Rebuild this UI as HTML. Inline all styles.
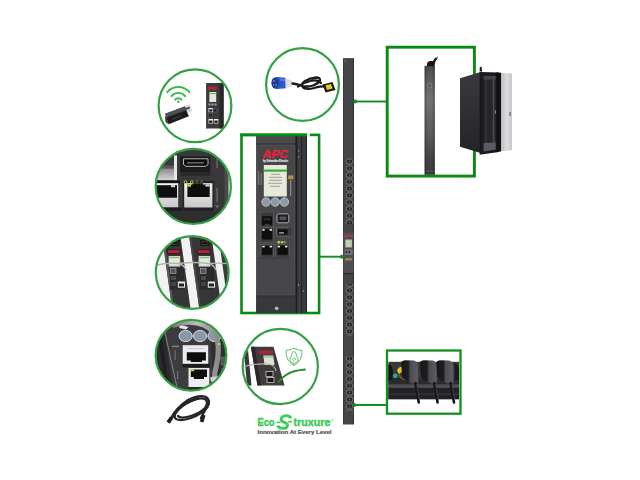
<!DOCTYPE html>
<html><head><meta charset="utf-8"><title>PDU</title>
<style>
html,body{margin:0;padding:0;background:#fff;width:640px;height:480px;overflow:hidden}
svg{display:block;position:absolute;left:0;top:0}
</style></head><body>
<svg width="640" height="480" viewBox="0 0 640 480">
<defs>
  <clipPath id="c1"><circle cx="195" cy="105.8" r="36"/></clipPath>
  <clipPath id="c2"><circle cx="193.3" cy="186.4" r="37.6"/></clipPath>
  <clipPath id="c3"><circle cx="192.2" cy="272.5" r="36.2"/></clipPath>
  <clipPath id="c4"><circle cx="191" cy="355.3" r="35.2"/></clipPath>
  <clipPath id="c5"><circle cx="302.5" cy="84.5" r="36.2"/></clipPath>
  <clipPath id="c6"><circle cx="280.3" cy="366.5" r="37.4"/></clipPath>
  <linearGradient id="pdu" x1="0" x2="1" y1="0" y2="0">
    <stop offset="0" stop-color="#333"/><stop offset="0.15" stop-color="#464646"/>
    <stop offset="0.85" stop-color="#444"/><stop offset="1" stop-color="#2e2e2e"/>
  </linearGradient>
  <linearGradient id="thin" x1="0" x2="1" y1="0" y2="0">
    <stop offset="0" stop-color="#3a3a3a"/><stop offset="0.5" stop-color="#6a6a6a"/>
    <stop offset="1" stop-color="#3a3a3a"/>
  </linearGradient>
  <pattern id="outl" x="343" y="158" width="11" height="6.8" patternUnits="userSpaceOnUse">
    <path d="M4.6 1.0 L8.6 1.0 L10.2 3.4 L8.6 5.8 L4.6 5.8 L3.0 3.4 Z" fill="#262626" stroke="#828282" stroke-width="0.85"/>
    <circle cx="6.6" cy="3.4" r="0.8" fill="#707070"/>
  </pattern>
</defs>

<!-- ===== main PDU ===== -->
<rect x="343" y="58" width="11" height="366.5" fill="url(#pdu)"/>
<rect x="343" y="58" width="11" height="1.2" fill="#555"/>
<circle cx="345" cy="61" r="0.6" fill="#aaa"/>
<rect x="343" y="158" width="11" height="66" fill="url(#outl)"/>
<rect x="343" y="284" width="11" height="52" fill="url(#outl)"/>
<rect x="343" y="356" width="11" height="56" fill="url(#outl)"/>
<rect x="343.5" y="232.5" width="10" height="40.5" fill="#505052"/>
<rect x="344.3" y="235" width="9" height="1.8" fill="#b03a50"/>
<rect x="345.2" y="239.5" width="6.8" height="8" fill="#a8b898"/>
<rect x="346" y="240.5" width="5.2" height="6" fill="#c0d0b0"/>
<rect x="344.8" y="249.5" width="7.8" height="5.5" fill="#70747e"/>
<circle cx="346.5" cy="252" r="1" fill="#222"/><circle cx="349.5" cy="252" r="1" fill="#222"/>
<rect x="345" y="258" width="7" height="2.6" fill="#8a8a40"/>
<rect x="343.5" y="273" width="10" height="1" fill="#2a2a2a"/>

<!-- ===== connector lines ===== -->
<g stroke="#188c24" stroke-width="1.9" fill="#188c24">
  <line x1="355" y1="101.5" x2="387" y2="101.5"/>
  <circle cx="355.2" cy="101.5" r="2" stroke="none"/>
  <line x1="319.4" y1="256.7" x2="342" y2="256.7"/>
  <circle cx="341.8" cy="256.7" r="2" stroke="none"/>
  <line x1="354" y1="405" x2="387" y2="405"/>
  <circle cx="354.4" cy="405" r="2" stroke="none"/>
</g>

<!-- ===== rect A: thin pdu + rack ===== -->
<rect x="387.2" y="47.2" width="87.2" height="128.9" fill="none" stroke="#0a8a14" stroke-width="2.9"/>
<defs>
  <linearGradient id="thinv" x1="0" y1="0" x2="0" y2="1">
    <stop offset="0" stop-color="#4a4a4c"/><stop offset="0.12" stop-color="#5c5c5e"/><stop offset="0.3" stop-color="#727274"/>
    <stop offset="0.65" stop-color="#5a5a5c"/><stop offset="0.85" stop-color="#444446"/><stop offset="1" stop-color="#3a3a3c"/>
  </linearGradient>
  <linearGradient id="thinh" x1="0" x2="1" y1="0" y2="0">
    <stop offset="0" stop-color="#000" stop-opacity="0.35"/><stop offset="0.25" stop-color="#000" stop-opacity="0"/>
    <stop offset="0.75" stop-color="#000" stop-opacity="0"/><stop offset="1" stop-color="#000" stop-opacity="0.35"/>
  </linearGradient>
</defs>
<rect x="424.6" y="65.8" width="10.2" height="109" fill="url(#thinv)"/>
<rect x="424.6" y="65.8" width="10.2" height="109" fill="url(#thinh)"/>
<circle cx="429.5" cy="85.6" r="2.3" fill="#5a5a5c" stroke="#8a8a8c" stroke-width="0.7"/>
<path d="M427 66.2 L427 63.5 Q427.5 61 430 61 L433 61 Q434 58.5 436.5 57 L437.5 58.8 Q435.5 60.5 435 63 L434.5 66.2 Z" fill="#161618"/>
<rect x="436" y="56.6" width="1.8" height="1.6" fill="#888" transform="rotate(-30 437 57.4)"/>
<rect x="426" y="170" width="8" height="2" fill="#555" opacity="0.6"/>
<!-- rack cabinet -->
<defs>
  <linearGradient id="side" x1="0" y1="0" x2="0" y2="1">
    <stop offset="0" stop-color="#3a3a3e"/><stop offset="1" stop-color="#242426"/>
  </linearGradient>
  <linearGradient id="door" x1="0" y1="0" x2="1" y2="0">
    <stop offset="0" stop-color="#bcbcc0"/><stop offset="0.5" stop-color="#dcdce0"/><stop offset="1" stop-color="#c8c8cc"/>
  </linearGradient>
</defs>
<polygon points="460,78.3 480.6,72 480.6,153 460,146.8" fill="url(#side)"/>
<polygon points="479.6,72 499,72.5 499,152 479.6,154.8" fill="#1a1a1c"/>
<polygon points="483.6,75.5 496,75.2 496,149.5 483.6,151.5" fill="#26262a"/>
<rect x="483.6" y="76" width="12.4" height="3.5" fill="#44444a"/>
<rect x="492.8" y="79" width="1.6" height="68" fill="#4a4a50"/>
<rect x="485.5" y="79" width="1.2" height="68" fill="#36363c"/>
<polygon points="483.6,143 496,142.6 496,149.5 483.6,151.5" fill="#5a5a60"/>
<rect x="495" y="110" width="2" height="4" fill="#9a9aa0"/>
<polygon points="495.8,72.5 501,72.8 501,151.5 495.8,152" fill="#121214"/>
<polygon points="501,73 512,73.4 512,150.2 501,151.2" fill="url(#door)"/>
<rect x="509.5" y="112" width="1" height="4" fill="#555"/>
<path d="M479.6 71.5 L479.8 66.8 L481.6 67 L482.2 71.5 Z" fill="#1e1e20"/>
<circle cx="470" cy="93" r="0.6" fill="#555"/><circle cx="470" cy="128" r="0.6" fill="#555"/>

<!-- ===== rect B: power strip with plugs ===== -->
<rect x="387.0" y="350.5" width="73.5" height="63.2" fill="none" stroke="#14901e" stroke-width="2.3"/>
<defs>
  <linearGradient id="plug" x1="0" y1="0" x2="1" y2="0">
    <stop offset="0" stop-color="#161618"/><stop offset="0.4" stop-color="#1e1e22"/><stop offset="0.5" stop-color="#4a4a50"/><stop offset="0.9" stop-color="#5c5c62"/><stop offset="1" stop-color="#303034"/>
  </linearGradient>
</defs>
<rect x="388.4" y="361.8" width="70.6" height="37.4" fill="#3a3a3e"/>
<rect x="388.4" y="378" width="70.6" height="6.5" fill="#2a2a2e"/>
<rect x="388.4" y="384.5" width="70.6" height="3.4" fill="#4e4e54"/>
<rect x="388.4" y="387.9" width="70.6" height="11.3" fill="#222226"/>
<rect x="388.4" y="393.5" width="70.6" height="1.2" fill="#3a3a3e"/>
<path d="M388.4 364.5 L391 365 Q393 368 393 372.5 Q393 378 391 380.5 L388.4 380.5 Z" fill="#141416"/>
<circle cx="395.2" cy="375.8" r="2.4" fill="#26a890"/>
<path d="M397 370.5 Q398.5 367 401.5 366.8 L403 369.5 Q401.8 373.2 399 374 Z" fill="#e8c820"/>
<path d="M398.5 374 Q400 379 405 380" fill="none" stroke="#a08a28" stroke-width="0.7"/>
<g fill="url(#plug)">
  <path d="M401.2 363 Q401.5 360.2 405.5 360.2 L414 360.5 Q417.5 361.5 418.4 367 L419 379 L418.6 383.5 L412.5 383.5 Q404.5 381 402 376 Z"/>
  <path d="M420 363 Q420.3 360.2 424.3 360.2 L432.8 360.5 Q436.3 361.5 437.2 367 L437.8 379 L437.4 383.5 L431.3 383.5 Q423.3 381 420.8 376 Z"/>
  <path d="M436.4 363 Q436.7 360.2 440.7 360.2 L449.2 360.5 Q452.7 361.5 453.6 367 L454.2 379 L453.8 383.5 L447.7 383.5 Q439.7 381 437.2 376 Z"/>
</g>
<g stroke="#141416" stroke-width="2.6" fill="none" stroke-linecap="round">
  <path d="M415.5 383 L417 392 L418.8 402.5"/>
  <path d="M434.3 383 L435.8 392 L437.6 402.5"/>
  <path d="M450.7 383 L452.2 392 L454 402.5"/>
</g>
<g stroke="#6a6a70" stroke-width="0.5" fill="none">
  <path d="M416.6 384 L418 392 L419.6 400"/>
  <path d="M435.4 384 L436.8 392 L438.4 400"/>
  <path d="M451.8 384 L453.2 392 L454.8 400"/>
</g>
<path d="M454.5 363 Q458.5 364 459 370 L459 380 L455 380 Z" fill="#1a1a1c"/>

<!-- ===== rect C: controller ===== -->
<rect x="241.5" y="134.9" width="77.6" height="178.1" fill="none" stroke="#0a8a14" stroke-width="2.6"/>
<rect x="256.2" y="136" width="50.7" height="177" fill="#303032"/>
<rect x="256.2" y="136" width="39.4" height="8" fill="#4a4a4c"/>
<rect x="256.2" y="143.5" width="39.4" height="1" fill="#2a2a2c"/>
<rect x="256.2" y="144.5" width="39.4" height="151.5" fill="#474749"/>
<rect x="257" y="145.2" width="37.8" height="150" rx="1.5" fill="none" stroke="#5a5a5c" stroke-width="0.6"/>
<rect x="295.6" y="136" width="11.3" height="177" fill="#3c3c3e"/>
<rect x="295.6" y="136" width="1.7" height="177" fill="#1e1e20"/>
<rect x="301.2" y="136" width="1" height="177" fill="#222224"/>
<rect x="305.9" y="136" width="1" height="177" fill="#242426"/>
<rect x="298" y="284" width="0.8" height="1.6" fill="#bbb"/><rect x="302.8" y="290" width="0.8" height="1.6" fill="#bbb"/>
<rect x="298" y="150" width="0.8" height="1.6" fill="#999"/><rect x="298" y="156" width="0.8" height="1.6" fill="#999"/>
<rect x="256.2" y="296" width="39.4" height="17" fill="#38383a"/>
<rect x="256.2" y="295.5" width="39.4" height="0.8" fill="#2a2a2c"/>
<circle cx="276.7" cy="308.3" r="1.9" fill="#b0b0b2"/>
<line x1="240.2" y1="134.9" x2="307.2" y2="134.9" stroke="#0a8a14" stroke-width="2.6"/>
<rect x="307.2" y="133" width="2.6" height="3.6" fill="#fff"/>
<!-- APC logo -->
<text x="262.6" y="157.8" font-family="Liberation Sans" font-weight="bold" font-style="italic" font-size="10.8" fill="#e0243c" stroke="#e0243c" stroke-width="0.5" textLength="25.2" lengthAdjust="spacingAndGlyphs">APC</text>
<text x="263" y="161.6" font-family="Liberation Sans" font-weight="bold" font-size="2.9" fill="#e8e8e8" stroke="#e8e8e8" stroke-width="0.15" textLength="25" lengthAdjust="spacingAndGlyphs">by Schneider Electric</text>
<!-- LCD -->
<rect x="263.8" y="165" width="23" height="31.5" fill="#e6eadb"/>
<rect x="263.8" y="169.5" width="23" height="2.2" fill="#3cac3c"/>
<g fill="#9a9c94">
  <rect x="271" y="173.8" width="9" height="0.9"/>
  <rect x="269" y="176.8" width="13" height="0.9"/>
  <rect x="269" y="179.8" width="13" height="0.9"/>
  <rect x="268" y="182.8" width="14" height="0.9"/>
  <rect x="270" y="185.8" width="10" height="0.9"/>
</g>
<g fill="#8a8a8c" opacity="0.7">
  <rect x="258" y="171" width="1.2" height="14"/><rect x="260.5" y="173" width="1.2" height="12"/>
</g>
<rect x="288.2" y="175.4" width="5.2" height="3.8" fill="#a89838"/>
<rect x="290.2" y="180" width="1" height="16" fill="#999"/>
<!-- buttons -->
<g fill="#8c9aa8" stroke="#c8d0d8" stroke-width="0.8">
  <circle cx="266" cy="202" r="4.2"/>
  <circle cx="275.2" cy="202" r="4.2"/>
  <circle cx="284.4" cy="202" r="4.2"/>
</g>
<!-- ports -->
<g>
  <rect x="260.3" y="212" width="13.1" height="15" fill="#3a3a3c" stroke="#606064" stroke-width="0.6"/>
  <path d="M262 216.3 L272.2 216.3 L272.2 225.2 L269.5 225.2 L269.5 223.8 L264.7 223.8 L264.7 225.2 L262 225.2 Z" fill="#0e0e0e"/>
  <rect x="263.5" y="218" width="7" height="2.5" fill="#2a2a2a"/>
  <rect x="277" y="213.9" width="11.8" height="8.9" rx="1.8" fill="#1e1e20" stroke="#a8a8ac" stroke-width="1"/>
  <rect x="279.5" y="216.5" width="6.8" height="3.6" rx="0.8" fill="#555"/>
  <rect x="260.3" y="227.5" width="13.1" height="14.9" fill="#3a3a3c" stroke="#606064" stroke-width="0.6"/>
  <rect x="262" y="229" width="10.2" height="10.5" fill="#0e0e0e"/>
  <rect x="262.3" y="229.1" width="2.4" height="1.6" fill="#f0f0f0"/>
  <rect x="269.6" y="229.1" width="2.4" height="1.6" fill="#f0f0f0"/>
  <rect x="276.4" y="227.5" width="13" height="9" fill="#3a3a3c" stroke="#707074" stroke-width="0.6"/>
  <rect x="278" y="229.4" width="9.6" height="5" fill="#0e0e0e"/>
  <rect x="279" y="232.4" width="5" height="1" fill="#ddd"/>
  <rect x="289.6" y="227.5" width="0.8" height="8" fill="#111"/>
  <rect x="277.5" y="241" width="2.6" height="2.4" fill="#a8d040"/>
  <rect x="280.8" y="241" width="2.6" height="2.4" fill="#a8d040"/>
  <rect x="284.1" y="241" width="1.6" height="2.4" fill="#8a9a50"/>
  <rect x="260.3" y="244.2" width="13.1" height="13" fill="#3a3a3c" stroke="#606064" stroke-width="0.6"/>
  <rect x="262" y="245.8" width="10.2" height="9" fill="#0e0e0e"/>
  <rect x="262.3" y="245.8" width="2.4" height="1.6" fill="#f0f0f0"/>
  <rect x="269.6" y="245.8" width="2.4" height="1.6" fill="#f0f0f0"/>
  <rect x="275.8" y="244.2" width="13.6" height="13" fill="#3a3a3c" stroke="#606064" stroke-width="0.6"/>
  <rect x="277.4" y="245.8" width="10.4" height="9" fill="#0e0e0e"/>
  <rect x="277.6" y="245.8" width="2.4" height="1.6" fill="#f0f0f0"/>
  <rect x="285" y="245.8" width="2.4" height="1.6" fill="#f0f0f0"/>
  <rect x="259" y="257.6" width="31" height="0.8" fill="#2e2e30"/>
</g>

<!-- ===== circle 1: wifi ===== -->
<g clip-path="url(#c1)">
  <g fill="none" stroke="#3cba4c" stroke-width="1.9" stroke-linecap="round">
    <path d="M167.2 92.2 A14.5 14.5 0 0 1 189.4 92.2"/>
    <path d="M171.4 96.2 A8.8 8.8 0 0 1 185.2 96.2"/>
    <path d="M175.1 99.7 A4.2 4.2 0 0 1 181.5 99.7"/>
  </g>
  <circle cx="178.3" cy="101.8" r="1.2" fill="#3cba4c"/>
  <polygon points="183,106.5 190,104.2 192,111.2 185,113.8" fill="#d8d8dc"/>
  <polygon points="184.8,108.2 189.4,106.6 190.1,108.6 185.5,110.2" fill="#555"/>
  <polygon points="165.2,113.8 184.8,106.6 188.8,116.2 168.6,124.2" fill="#1c1c1e"/>
  <polygon points="165.2,113.8 184.8,106.6 186.2,110.2 166.4,117.6" fill="#505054"/>
  <polygon points="166.4,117.6 168.6,124.2 165.6,122 164.8,115.6" fill="#2a2a2c"/>
  <polygon points="172,118.5 181,115.2 181.5,116.6 172.5,119.9" fill="#3a3a3e"/>
  <rect x="206" y="83" width="17.6" height="45.5" fill="#3a3a3c"/>
  <rect x="219.5" y="83" width="4.1" height="45.5" fill="#28282a"/>
  <rect x="206" y="83" width="0.8" height="45.5" fill="#555"/>
  <rect x="208" y="86.5" width="8.8" height="3.5" fill="#a82838"/>
  <rect x="209.4" y="92" width="6.8" height="10" fill="#e4e6da"/>
  <rect x="209.4" y="93" width="6.8" height="1" fill="#5ab85a"/>
  <circle cx="209.5" cy="104.5" r="1.2" fill="#8a96a2"/><circle cx="212.5" cy="104.5" r="1.2" fill="#8a96a2"/><circle cx="215.5" cy="104.5" r="1.2" fill="#8a96a2"/>
  <rect x="208.5" y="108" width="4.2" height="4.2" fill="#e8e8e8"/>
  <rect x="209.1" y="109.3" width="3" height="2.3" fill="#222"/>
  <rect x="213" y="109" width="4" height="3" fill="#222" stroke="#888" stroke-width="0.4"/>
  <rect x="208.5" y="113.5" width="4.2" height="3.8" fill="#2a2a2a" stroke="#777" stroke-width="0.4"/>
  <rect x="208.5" y="119" width="4.5" height="4.5" fill="#eee"/>
  <rect x="209.1" y="120.5" width="3.3" height="2.4" fill="#222"/>
  <rect x="213.8" y="119" width="4.5" height="4.5" fill="#eee"/>
  <rect x="214.4" y="120.5" width="3.3" height="2.4" fill="#222"/>
</g>
<circle cx="195" cy="105.8" r="36.4" fill="none" stroke="#35a043" stroke-width="2.2"/>

<!-- ===== circle 2: ports closeup ===== -->
<defs>
  <linearGradient id="silver" x1="0" y1="0" x2="0" y2="1">
    <stop offset="0" stop-color="#8a8a8c"/><stop offset="1" stop-color="#d8d8da"/>
  </linearGradient>
  <linearGradient id="rjw" x1="0" y1="0" x2="0" y2="1">
    <stop offset="0" stop-color="#f4f4f4"/><stop offset="1" stop-color="#c8c8ca"/>
  </linearGradient>
</defs>
<g clip-path="url(#c2)">
  <rect x="150" y="145" width="90" height="85" fill="#38383a"/>
  <rect x="228.3" y="145" width="14" height="85" fill="#ececec"/>
  <rect x="224.5" y="145" width="3.8" height="85" fill="#4a4a4c"/>
  <!-- top-left silver port -->
  <rect x="150" y="155.4" width="27" height="10" fill="#3a3a3c"/>
  <polygon points="150,165.4 177,165.4 177,168.5 150,168.5" fill="#5a5a5c"/>
  <rect x="150" y="168.5" width="27" height="11.9" fill="url(#silver)"/>
  <rect x="174" y="155.4" width="3" height="25" fill="#e8e8e8"/>
  <rect x="150" y="180.4" width="30" height="3.1" fill="#111"/>
  <!-- HDMI -->
  <rect x="180" y="156.4" width="30.3" height="15.6" fill="#1c1c1e"/>
  <path d="M183.5 158.8 L208 158.8 L208 164.5 L205.5 166.3 L186 166.3 L183.5 164.5 Z" fill="#0c0c0c" stroke="#e0e0e0" stroke-width="0.8"/>
  <rect x="187" y="162.5" width="17" height="0.8" fill="#bbb"/>
  <rect x="180" y="172" width="30.3" height="4" fill="#2a2a2c"/>
  <!-- left RJ45 -->
  <rect x="150" y="183.2" width="28.2" height="24.3" fill="url(#rjw)"/>
  <rect x="150" y="185.2" width="27" height="12.5" fill="#0e0e0e"/>
  <rect x="171" y="185.2" width="4" height="2" fill="#ddd"/>
  <!-- main RJ45 -->
  <rect x="182.8" y="181.2" width="30.9" height="29.6" fill="#202022"/>
  <rect x="184.2" y="183.2" width="28.2" height="24.3" fill="url(#rjw)"/>
  <path d="M187.4 184.5 L192.4 184.5 L192.4 183.2 L203 183.2 L203 184.5 L209.7 184.5 L209.7 197 L187.4 197 Z" fill="#0e0e0e"/>
  <rect x="187.4" y="184.5" width="3.6" height="2.2" fill="#b8e040"/>
  <rect x="205.5" y="184.5" width="4" height="2" fill="#ddd"/>
  <circle cx="185.5" cy="182.2" r="1.4" fill="none" stroke="#c8e040" stroke-width="0.9"/>
  <circle cx="191.8" cy="182.2" r="1.4" fill="none" stroke="#c8e040" stroke-width="0.9"/>
  <circle cx="197" cy="181.6" r="0.9" fill="none" stroke="#a8a040" stroke-width="0.5"/>
  <circle cx="201.5" cy="181.6" r="0.9" fill="none" stroke="#a8a040" stroke-width="0.5"/>
  <!-- labels -->
  <rect x="216.5" y="188" width="1.2" height="14" fill="#8a8a8c" opacity="0.7"/>
  <rect x="216.5" y="159" width="1.2" height="9" fill="#8a8a8c" opacity="0.7"/>
  <path d="M215.5 205 L217 207.5 L218.5 205" fill="none" stroke="#aaa" stroke-width="0.6"/>
  <!-- bottom band -->
  <rect x="150" y="210.8" width="75" height="15" fill="#2e2e30"/>
  <rect x="150" y="207.5" width="32" height="3.3" fill="#1c1c1e"/>
</g>
<circle cx="193.3" cy="186.4" r="37.6" fill="none" stroke="#35a043" stroke-width="2.2"/>

<!-- ===== circle 3: two pdus ===== -->
<g clip-path="url(#c3)">
  <rect x="150" y="230" width="85" height="85" fill="#f2f2f2"/>
  <polygon points="161.4,232 179.8,232 191.0,312 172.6,312" fill="#363638"/>
  <polygon points="161.4,232 163.4,232 174.6,312 172.6,312" fill="#5a5a5c"/>
  <polygon points="188.6,232 210.9,232 222.1,312 199.8,312" fill="#363638"/>
  <polygon points="188.6,232 190.4,232 201.6,312 199.8,312" fill="#4a4a4c"/>
  <polygon points="217.9,232 240.0,232 251.2,312 229.1,312" fill="#3a3a3c"/>
  <rect x="170.2" y="239.7" width="9.4" height="6.4" rx="1" fill="#141414"/>
  <rect x="171.8" y="241.2" width="6.2" height="3.4" rx="1.2" fill="none" stroke="#666" stroke-width="0.6"/>
  <rect x="166.9" y="249" width="14" height="5.3" fill="#3a1c20"/>
  <rect x="168" y="250.2" width="11.5" height="2.8" fill="#b02838"/>
  <rect x="168.6" y="256" width="11.6" height="10.6" fill="#cfd8c4"/>
  <rect x="169.6" y="257.2" width="9.6" height="8" fill="#e6eadc"/>
  <rect x="169.6" y="257.2" width="9.6" height="1" fill="#6ab86a"/>
  <rect x="170" y="267.5" width="14" height="22" fill="#2a2a2c"/>
  <rect x="170.5" y="268.5" width="5.5" height="5" fill="#555" stroke="#ccc" stroke-width="0.5"/>
  <rect x="171" y="276" width="5" height="4" fill="#4a4a4a"/>
  <rect x="171" y="282" width="5" height="4" fill="#444"/>
  <rect x="177.8" y="281.5" width="7.2" height="6.2" fill="#e8e8e8"/>
  <rect x="178.8" y="283.5" width="5.2" height="3" fill="#222"/>
  <rect x="200.2" y="239.7" width="9.4" height="6.4" rx="1" fill="#141414"/>
  <rect x="201.8" y="241.2" width="6.2" height="3.4" rx="1.2" fill="none" stroke="#666" stroke-width="0.6"/>
  <rect x="196.9" y="249" width="14" height="5.3" fill="#3a1c20"/>
  <rect x="198" y="250.2" width="11.5" height="2.8" fill="#b02838"/>
  <rect x="198.6" y="256" width="11.6" height="10.6" fill="#cfd8c4"/>
  <rect x="199.6" y="257.2" width="9.6" height="8" fill="#e6eadc"/>
  <rect x="199.6" y="257.2" width="9.6" height="1" fill="#6ab86a"/>
  <rect x="200" y="267.5" width="14" height="22" fill="#2a2a2c"/>
  <rect x="200.5" y="268.5" width="5.5" height="5" fill="#555" stroke="#ccc" stroke-width="0.5"/>
  <rect x="201" y="276" width="5" height="4" fill="#4a4a4a"/>
  <rect x="201" y="282" width="5" height="4" fill="#444"/>
  <rect x="207.8" y="281.5" width="7.2" height="6.2" fill="#e8e8e8"/>
  <rect x="208.8" y="283.5" width="5.2" height="3" fill="#222"/>
  <path d="M155 265.5 Q166 262.5 178 263.5 Q184 264.5 186 270 M178 263.5 Q194 261.5 208 263.5 Q214 264.5 216 270 M208 263.5 Q220 262.5 232 264" fill="none" stroke="#b4b4b6" stroke-width="1.4"/>
</g>
<circle cx="192.2" cy="272.5" r="36.4" fill="none" stroke="#35a043" stroke-width="2.2"/>

<!-- ===== circle 4: rj45 closeup ===== -->
<defs>
  <linearGradient id="cab4" x1="0" y1="0" x2="1" y2="0">
    <stop offset="0" stop-color="#7a7a7c"/><stop offset="0.5" stop-color="#bdbdbf"/><stop offset="1" stop-color="#8a8a8c"/>
  </linearGradient>
</defs>
<g clip-path="url(#c4)">
  <rect x="150" y="315" width="85" height="85" fill="#3c3c3e"/>
  <polygon points="150,315 162,315 174,395 150,395" fill="#2a2a2c"/>
  <polygon points="155,315 158,315 170,395 167,395" fill="#1e1e20"/>
  <line x1="163.5" y1="326" x2="178.5" y2="394" stroke="#8a8a8c" stroke-width="0.9"/>
  <polygon points="210,330 235,330 235,395 214,395" fill="#2e2e30"/>
  <rect x="221" y="357" width="12" height="8" fill="#555" stroke="#777" stroke-width="0.5"/>
  <rect x="221" y="368" width="12" height="6" fill="#4a4a4c"/>
  <g fill="#8898a6" stroke="#d4dae0" stroke-width="1">
    <ellipse cx="185.6" cy="336" rx="6.6" ry="5.6"/>
    <ellipse cx="200" cy="336" rx="6.6" ry="5.6"/>
    <ellipse cx="214.5" cy="336" rx="6.6" ry="5.6"/>
  </g>
  <polygon points="179.3,324.5 188.5,327 186,329.5 179.5,328" fill="#e8e8ea"/>
  <rect x="172" y="345.7" width="7" height="1.4" fill="#999" opacity="0.8"/>
  <rect x="174.5" y="350" width="1.2" height="10" fill="#888" opacity="0.7"/>
  <rect x="177" y="371" width="1.2" height="8" fill="#888" opacity="0.7"/>
  <!-- top RJ45 -->
  <rect x="182.7" y="345.2" width="25.5" height="18.7" fill="#ececee"/>
  <path d="M186.8 352.3 L205.9 352.3 L205.9 360.6 L202 360.6 L202 362.1 L190.8 362.1 L190.8 360.6 L186.8 360.6 Z" fill="#0e0e0e"/>
  <rect x="188" y="348" width="16" height="1" fill="#ccc"/>
  <rect x="182.7" y="363.9" width="27" height="3.4" fill="#1c1c1e"/>
  <!-- lower RJ45 -->
  <rect x="188.5" y="368" width="20.8" height="19" fill="#ececee"/>
  <path d="M190.8 369.5 L207 369.5 L207 377 L204 377 L204 378.9 L193.8 378.9 L193.8 377 L190.8 377 Z" fill="#0e0e0e"/>
  <rect x="189.7" y="369.4" width="4.5" height="1.8" fill="#b8e060"/>
  <rect x="188.5" y="387" width="21" height="6" fill="#2a2a2c"/>
  <!-- cable -->
  <path d="M174 325 Q190 319.5 204 325 Q214 330 217.5 341 Q219.5 352 216.5 365 Q214.5 372 214.5 380" fill="none" stroke="url(#cab4)" stroke-width="5.2" stroke-linecap="round"/>
  <path d="M176 322.6 Q190 318 203.5 323" fill="none" stroke="#dcdcde" stroke-width="1.1"/>
  <rect x="210.5" y="376.6" width="9" height="4.6" rx="1" fill="#d4d4d6" transform="rotate(-8 215 379)"/>
  <circle cx="219.2" cy="344" r="1.3" fill="#a8e040"/>
</g>
<circle cx="191" cy="355.3" r="35.4" fill="none" stroke="#35a043" stroke-width="2.2"/>

<!-- ===== cable below circle 4 ===== -->
<g fill="none" stroke="#262628" stroke-width="2.3" stroke-linecap="round" stroke-linejoin="round">
  <path d="M170.5 419 Q176 408 188 400 Q199 394.5 206 397 Q211 400 207.5 407 Q202 414 191 418 Q181 421.5 176 419 Q172.5 416 178 410 Q186 402 198 398.5"/>
  <path d="M172 418 Q178 407 190 401.5 Q200 397 205 399 Q209 402 205 408 Q199 414 189 416.5 Q180 419 178 416"/>
  <path d="M201 418 Q204 412 208.5 404"/>
</g>
<path d="M166.5 421.5 L170 416.5 L173.2 418.6 L169.8 423.8 Z" fill="#1e1e20"/>
<path d="M199.8 421.5 L202 414.5 L205.5 415.6 L203.4 422.6 Z" fill="#1e1e20"/>

<!-- ===== circle 5: cable ===== -->
<g clip-path="url(#c5)">
  <path d="M277 77 L285.5 77.8 L286 88.2 L277 89 Z" fill="#2a5cc8"/>
  <path d="M278 78.5 L285 79 L285 81 L278 81 Z" fill="#6a90e0" opacity="0.6"/>
  <path d="M285.5 78.3 L292 80.5 L292.5 86.5 L285.5 88 Z" fill="#dcdce4"/>
  <ellipse cx="276" cy="83" rx="4.6" ry="6" fill="#2450c0"/>
  <ellipse cx="275" cy="83" rx="3.3" ry="4.8" fill="#1a3a9a"/>
  <circle cx="274" cy="81" r="0.7" fill="#ccd"/><circle cx="276" cy="85" r="0.7" fill="#ccd"/><circle cx="273.5" cy="85" r="0.6" fill="#ccd"/>
  <g fill="none" stroke="#1c1c1e" stroke-width="2.3" stroke-linecap="round" stroke-linejoin="round">
    <path d="M292.5 83.5 Q297 84 301 85.5 Q306 87.5 313 85.5 Q319 83 320 80.5 Q320.5 77.5 316 77.5 Q310 78 305 81 Q300 84.5 303 87.5 Q307 90 314 88 Q320 86 324 86.5"/>
    <path d="M298 86.5 Q305 82 312 80.5 Q318 79.5 321 83"/>
  </g>
  <polygon points="322.5,84.5 332.5,82 335.5,90 325.5,92.5" fill="#1a1a1a"/>
  <polygon points="325.5,85.2 331,84 332.6,88.6 327,90" fill="#e8cc20"/>
</g>
<circle cx="302.5" cy="84.5" r="36.4" fill="none" stroke="#35a043" stroke-width="2.2"/>

<!-- ===== circle 6: pdu + shield ===== -->
<g clip-path="url(#c6)">
  <polygon points="244.4,356 248,350 251.5,385.4 247,385.4" fill="#3a3838"/>
  <polygon points="250.9,346.8 273.5,346.8 284.5,385.4 257.5,385.4" fill="#403c3c"/>
  <polygon points="250.9,346.8 254.5,346.8 261,385.4 257.5,385.4" fill="#2a2828"/>
  <rect x="259" y="350.4" width="13.8" height="3.8" fill="#a02838"/>
  <polygon points="263.3,355.5 273.2,355.5 274.5,365 264.5,365" fill="#dfe2d4"/>
  <rect x="264" y="356.6" width="9.5" height="0.8" fill="#5ab85a"/>
  <rect x="266" y="371.5" width="7" height="5" fill="#1a1a1a" stroke="#ddd" stroke-width="0.7"/>
  <rect x="267" y="377.5" width="7" height="5" fill="#1a1a1a" stroke="#ddd" stroke-width="0.7"/>
  <path d="M243 367 Q256 363 268 364 Q275 365 276 371" fill="none" stroke="#b4b4b6" stroke-width="1.2"/>
  <path d="M278.5 382 Q286 373 295 371 Q300 370 305 369.5" fill="none" stroke="#2a8a3a" stroke-width="1.8" stroke-linecap="round"/>
  <g fill="none" stroke="#5ebc6e" stroke-width="0.95" stroke-linejoin="round">
    <path d="M294 348.3 Q298 350.2 302 350.5 Q302.6 360.5 294 365.6 Q285.4 360.5 286 350.5 Q290 350.2 294 348.3 Z"/>
    <path d="M293.8 351.6 Q291.8 351.8 291.7 354.5 Q291.7 356.5 290.4 358 Q289.2 360.2 290.6 361.8 Q292 363.3 294 363.2 Q296.8 363 297.8 361.2 Q298.8 359.2 297.4 357.6 Q296.2 356.3 296.2 354.3 Q296 351.6 293.8 351.6 Z"/>
    <path d="M294 363.2 L293.8 365.4 M294.2 361 Q292.6 360.8 292.7 359.3 Q293.2 357.8 294.8 358.2 Q296 358.8 295.6 360.3"/>
  </g>
</g>
<circle cx="280.3" cy="366.5" r="37.6" fill="none" stroke="#35a043" stroke-width="2.2"/>

<!-- ===== EcoStruxure logo ===== -->
<text x="257.4" y="426" font-family="Liberation Sans" font-weight="bold" font-size="11.2" fill="#3dcd58" stroke="#3dcd58" stroke-width="0.45" textLength="17.2" lengthAdjust="spacingAndGlyphs">Eco</text>
<g fill="none" stroke="#3dcd58" stroke-linecap="butt">
  <path d="M291 418.2 Q290 415.6 286.2 415.6 Q281.6 415.8 281.2 419 Q281.2 421.6 284.4 422.4 Q287.8 423.3 287.4 425.8 Q286.8 428.4 283 428.4 Q278.8 428.2 277.6 425.6" stroke-width="2.9"/>
  <path d="M276.6 422.4 L280.6 422.4" stroke-width="1.5"/>
  <path d="M288.2 421.8 L292 421.8" stroke-width="1.5"/>
</g>
<text x="293.5" y="426" font-family="Liberation Sans" font-weight="bold" font-size="10.8" fill="#3dcd58" stroke="#3dcd58" stroke-width="0.45" textLength="36.9" lengthAdjust="spacingAndGlyphs">truxure</text>
<circle cx="332.3" cy="420" r="0.9" fill="none" stroke="#3dcd58" stroke-width="0.4"/>
<text x="257.5" y="433.6" font-family="Liberation Sans" font-weight="bold" font-size="6" fill="#505054" stroke="#505054" stroke-width="0.2" textLength="74" lengthAdjust="spacingAndGlyphs">Innovation At Every Level</text>

</svg>
</body></html>
